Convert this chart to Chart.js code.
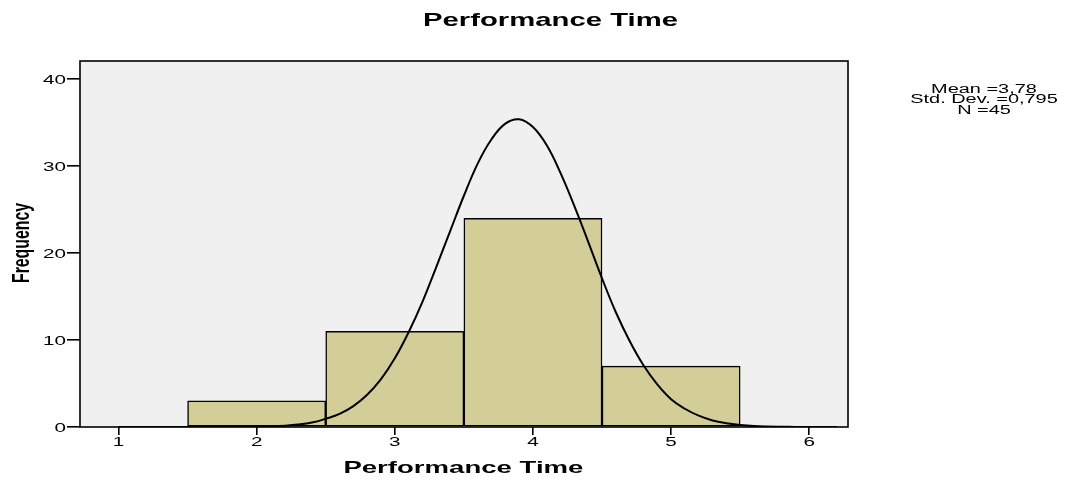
<!DOCTYPE html>
<html>
<head>
<meta charset="utf-8">
<title>Performance Time</title>
<script src="https://cdn.jsdelivr.net/npm/chart.js@4/dist/chart.umd.min.js"></script>
<style>
  html, body { margin: 0; padding: 0; background: #ffffff; }
  #wrap { width: 1067px; height: 481px; }
</style>
</head>
<body>
<div id="wrap"><canvas id="c" width="1067" height="481"></canvas></div>
<script>
// Histogram bins (bin centres) and their frequencies
const binCenters = [2, 3, 4, 5];
const frequencies = [3, 11, 24, 7];

// Fitted normal curve, sampled along the x axis
const curveX = [1.0, 1.2, 1.4, 1.6, 1.8, 1.9, 2.0, 2.1, 2.2, 2.3, 2.4, 2.5, 2.6, 2.7, 2.8, 2.9,
                3.0, 3.1, 3.2, 3.3, 3.4, 3.5, 3.6, 3.7, 3.8, 3.9, 4.0, 4.1, 4.2, 4.3, 4.4, 4.5,
                4.6, 4.7, 4.8, 4.9, 5.0, 5.1, 5.2, 5.3, 5.4, 5.5, 5.6, 5.7, 5.8, 5.9, 6.0, 6.2];
const curveY = [0, 0, 0, 0, 0.01, 0.02, 0.04, 0.08, 0.15, 0.28, 0.51, 0.95, 1.5, 2.4, 3.7, 5.5,
                7.9, 10.9, 14.4, 18.4, 22.5, 26.6, 30.3, 33.1, 34.9, 35.4, 34.5, 32.4, 29.2, 25.4, 21.3, 17.1,
                13.2, 9.9, 7.1, 4.9, 3.2, 2.1, 1.3, 0.75, 0.43, 0.24, 0.12, 0.06, 0.03, 0.01, 0, 0];

// Axis ticks
const xTickValues = [1, 2, 3, 4, 5, 6];
const yTickValues = [0, 10, 20, 30, 40];

// Summary statistics block
const statLines = ['Mean =3,78', 'Std. Dev. =0,795', 'N =45'];

const chartTitle = 'Performance Time';
const xAxisTitle = 'Performance Time';
const yAxisTitle = 'Frequency';

const FONT = '"Liberation Sans", Arial, sans-serif';

// Draws text squeezed/stretched to a given width (or by a fixed factor)
function drawText(ctx, str, x, y, o) {
  ctx.save();
  ctx.font = o.font;
  ctx.fillStyle = '#000000';
  ctx.textBaseline = o.baseline || 'alphabetic';
  ctx.textAlign = o.align || 'center';
  ctx.translate(x, y);
  if (o.rotate) ctx.rotate(o.rotate);
  const w = ctx.measureText(str).width;
  const sx = o.width ? o.width / w : (o.sx || 1);
  ctx.scale(sx, o.sy || 1);
  ctx.fillText(str, 0, 0);
  ctx.restore();
}

const frameAndText = {
  id: 'frameAndText',
  beforeDraw(chart) {
    const { ctx, chartArea: a } = chart;
    ctx.save();
    ctx.fillStyle = '#ffffff';
    ctx.fillRect(0, 0, chart.width, chart.height);
    ctx.fillStyle = '#F0F0F0';
    ctx.fillRect(a.left, a.top, a.right - a.left, a.bottom - a.top);
    ctx.restore();
  },
  afterDraw(chart) {
    const { ctx, chartArea: a } = chart;
    const xs = chart.scales.x, ys = chart.scales.y;

    // plot frame
    ctx.save();
    ctx.strokeStyle = '#000000';
    ctx.lineWidth = 1.6;
    ctx.strokeRect(a.left, a.top, a.right - a.left, a.bottom - a.top);
    ctx.restore();

    // tick labels
    const tickFont = '12.5px ' + FONT;
    ys.ticks.forEach(t => {
      drawText(ctx, String(t.value), a.left - 14, ys.getPixelForValue(t.value) + 1.5,
        { font: tickFont, align: 'right', baseline: 'middle', sx: 1.65 });
    });
    xs.ticks.forEach(t => {
      drawText(ctx, String(t.value), xs.getPixelForValue(t.value), 446,
        { font: tickFont, align: 'center', sx: 1.65 });
    });

    // titles
    drawText(ctx, chartTitle, 550.5, 26, { font: 'bold 17.7px ' + FONT, width: 255 });
    drawText(ctx, xAxisTitle, 463.4, 473, { font: 'bold 16.7px ' + FONT, width: 240 });
    drawText(ctx, yAxisTitle, 28.8, 243,
      { font: 'bold 16px ' + FONT, width: 80, sy: 1.5, rotate: -Math.PI / 2 });

    // statistics
    const statFont = '12px ' + FONT;
    const statBase = [92.5, 103, 113.5];
    statLines.forEach((s, i) => {
      drawText(ctx, s, 984, statBase[i], { font: statFont, align: 'center', sx: 1.66 });
    });
  }
};

new Chart(document.getElementById('c'), {
  type: 'bar',
  data: {
    datasets: [
      {
        type: 'line',
        data: curveX.map((x, i) => ({ x: x, y: curveY[i] })),
        borderColor: '#000000',
        borderWidth: 2,
        pointRadius: 0,
        fill: false,
        tension: 0.4,
        order: 0
      },
      {
        type: 'bar',
        data: binCenters.map((x, i) => ({ x: x, y: frequencies[i] })),
        backgroundColor: '#D3CE97',
        borderColor: '#000000',
        borderWidth: 1.5,
        borderSkipped: false,
        barPercentage: 1,
        categoryPercentage: 1,
        grouped: false,
        order: 1
      }
    ]
  },
  options: {
    responsive: false,
    animation: false,
    devicePixelRatio: 1,
    layout: { padding: { left: 67, right: 219, top: 61, bottom: 46 } },
    plugins: {
      legend: { display: false },
      title: { display: false },
      tooltip: { enabled: false }
    },
    scales: {
      x: {
        type: 'linear',
        position: 'bottom',
        min: 0.7213,
        max: 6.2805,
        offset: false,
        border: { display: false },
        grid: {
          display: true, drawOnChartArea: false, drawTicks: true,
          tickLength: 8, color: '#000000', lineWidth: 1.6, offset: false
        },
        ticks: { display: false },
        afterBuildTicks: s => { s.ticks = xTickValues.map(v => ({ value: v })); }
      },
      y: {
        type: 'linear',
        min: 0,
        max: 42.1,
        border: { display: false },
        grid: {
          display: true, drawOnChartArea: false, drawTicks: true,
          tickLength: 13, color: '#000000', lineWidth: 1.6
        },
        ticks: { display: false },
        afterBuildTicks: s => { s.ticks = yTickValues.map(v => ({ value: v })); }
      }
    }
  },
  plugins: [frameAndText]
});
</script>
</body>
</html>
